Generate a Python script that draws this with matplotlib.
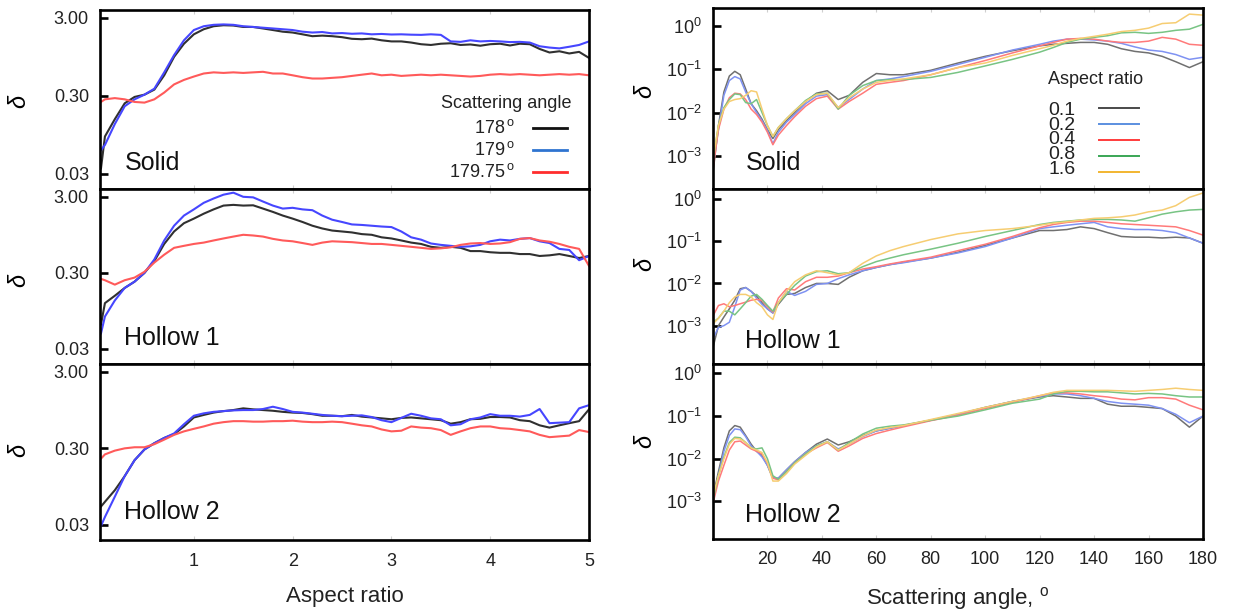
import matplotlib
matplotlib.use('Agg')
import matplotlib.pyplot as plt
from matplotlib.lines import Line2D

plt.rcParams['font.family'] = ['Liberation Sans', 'DejaVu Sans']
plt.rcParams['mathtext.fontset'] = 'custom'
plt.rcParams['mathtext.rm'] = 'Liberation Sans'
plt.rcParams['mathtext.it'] = 'Liberation Sans:italic'

W, H = 1235, 613

# ---------------- left: depolarisation vs aspect ratio ----------------
aspect = [0.06, 0.1, 0.2, 0.3, 0.4, 0.5, 0.6, 0.7, 0.8, 0.9, 1.0, 1.1, 1.2, 1.3, 1.4, 1.5, 1.6,
          1.7, 1.8, 1.9, 2.0, 2.1, 2.2, 2.3, 2.4, 2.5, 2.6, 2.7, 2.8, 2.9, 3.0, 3.1, 3.2, 3.3,
          3.4, 3.5, 3.6, 3.7, 3.8, 3.9, 4.0, 4.1, 4.2, 4.3, 4.4, 4.5, 4.6, 4.7, 4.8, 4.9, 5.0]

solid_178 = [0.035, 0.09, 0.15, 0.24, 0.29, 0.31, 0.36, 0.55, 0.95, 1.4, 1.85, 2.15, 2.35, 2.42,
             2.4, 2.3, 2.3, 2.2, 2.1, 2.0, 1.95, 1.85, 1.75, 1.78, 1.75, 1.7, 1.62, 1.6, 1.63,
             1.55, 1.5, 1.5, 1.45, 1.38, 1.35, 1.4, 1.42, 1.35, 1.37, 1.32, 1.38, 1.4, 1.33,
             1.4, 1.38, 1.2, 1.08, 1.12, 1.05, 1.1, 0.92]
solid_179 = [0.06, 0.07, 0.13, 0.22, 0.27, 0.31, 0.37, 0.6, 1.0, 1.55, 2.1, 2.35, 2.45, 2.48,
             2.45, 2.35, 2.3, 2.25, 2.2, 2.15, 2.1, 2.0, 1.95, 1.98, 1.9, 1.92, 1.88, 1.9, 1.85,
             1.87, 1.84, 1.85, 1.83, 1.82, 1.85, 1.82, 1.5, 1.48, 1.55, 1.5, 1.52, 1.5, 1.47,
             1.48, 1.45, 1.3, 1.25, 1.22, 1.28, 1.35, 1.5]
solid_17975 = [0.25, 0.27, 0.28, 0.27, 0.25, 0.245, 0.27, 0.33, 0.42, 0.48, 0.53, 0.58, 0.6,
               0.59, 0.6, 0.59, 0.6, 0.61, 0.58, 0.58, 0.55, 0.52, 0.5, 0.5, 0.51, 0.52, 0.54,
               0.56, 0.58, 0.55, 0.56, 0.54, 0.55, 0.56, 0.55, 0.56, 0.55, 0.54, 0.53, 0.54,
               0.56, 0.57, 0.56, 0.57, 0.56, 0.55, 0.56, 0.57, 0.56, 0.57, 0.55]

hollow1_178 = [0.063, 0.12, 0.15, 0.19, 0.23, 0.3, 0.43, 0.72, 1.05, 1.35, 1.55, 1.8, 2.05, 2.3,
               2.35, 2.3, 2.32, 2.1, 1.9, 1.7, 1.55, 1.4, 1.25, 1.15, 1.08, 1.05, 1.02, 0.97,
               0.95, 0.88, 0.85, 0.8, 0.75, 0.72, 0.66, 0.64, 0.66, 0.64, 0.58, 0.58, 0.56,
               0.55, 0.55, 0.53, 0.53, 0.5, 0.51, 0.53, 0.5, 0.47, 0.5]
hollow1_179 = [0.048, 0.08, 0.13, 0.19, 0.23, 0.3, 0.45, 0.8, 1.25, 1.7, 2.05, 2.5, 2.85, 3.2,
               3.4, 3.0, 2.95, 2.6, 2.3, 2.1, 2.15, 2.05, 2.0, 1.7, 1.5, 1.4, 1.3, 1.28, 1.25,
               1.22, 1.2, 1.05, 0.88, 0.82, 0.73, 0.7, 0.68, 0.66, 0.67, 0.7, 0.78, 0.82, 0.8,
               0.84, 0.86, 0.78, 0.74, 0.62, 0.6, 0.44, 0.5]
hollow1_17975 = [0.25, 0.24, 0.21, 0.24, 0.26, 0.31, 0.41, 0.52, 0.64, 0.68, 0.72, 0.75, 0.8,
                 0.85, 0.9, 0.95, 0.93, 0.9, 0.84, 0.8, 0.78, 0.74, 0.7, 0.75, 0.78, 0.77, 0.76,
                 0.74, 0.72, 0.72, 0.7, 0.68, 0.66, 0.64, 0.62, 0.63, 0.65, 0.7, 0.73, 0.74,
                 0.72, 0.73, 0.76, 0.84, 0.86, 0.8, 0.77, 0.72, 0.66, 0.62, 0.37]

hollow2_178 = [0.052, 0.06, 0.085, 0.13, 0.21, 0.29, 0.35, 0.41, 0.46, 0.58, 0.76, 0.82, 0.88,
               0.92, 0.95, 1.0, 0.97, 0.95, 0.93, 0.9, 0.88, 0.87, 0.84, 0.8, 0.8, 0.79, 0.82,
               0.78, 0.76, 0.74, 0.72, 0.75, 0.76, 0.74, 0.72, 0.7, 0.63, 0.66, 0.72, 0.73, 0.77,
               0.77, 0.76, 0.7, 0.68, 0.6, 0.56, 0.6, 0.64, 0.68, 0.97]
hollow2_179 = [0.029, 0.038, 0.07, 0.13, 0.21, 0.29, 0.35, 0.41, 0.47, 0.62, 0.8, 0.86, 0.9,
               0.92, 0.94, 0.95, 0.95, 0.98, 1.05, 0.98, 0.9, 0.88, 0.85, 0.82, 0.8, 0.79, 0.8,
               0.81, 0.77, 0.7, 0.66, 0.75, 0.85, 0.8, 0.74, 0.72, 0.6, 0.62, 0.72, 0.76, 0.84,
               0.8, 0.8, 0.78, 0.82, 0.98, 0.64, 0.65, 0.66, 1.0, 1.1]
hollow2_17975 = [0.22, 0.25, 0.28, 0.3, 0.31, 0.31, 0.34, 0.39, 0.45, 0.5, 0.54, 0.58, 0.63,
                 0.66, 0.68, 0.68, 0.67, 0.67, 0.68, 0.68, 0.69, 0.67, 0.66, 0.66, 0.67, 0.66,
                 0.63, 0.6, 0.58, 0.53, 0.5, 0.51, 0.58, 0.56, 0.55, 0.52, 0.45, 0.5, 0.55, 0.58,
                 0.58, 0.55, 0.54, 0.52, 0.5, 0.45, 0.42, 0.43, 0.44, 0.52, 0.49]

angle_labels = ['178', '179', '179.75']
angle_colors = ['#303030', '#4646ff', '#ff5a5a']
angle_key_colors = ['#111111', '#2f74d0', '#ff2d2d']

# ---------------- right: depolarisation vs scattering angle ----------------
theta = [0, 2, 4, 6, 8, 10, 12, 14, 16, 18, 20, 22, 24, 27, 30, 34, 38, 42, 46, 50, 55, 60, 65,
         70, 80, 90, 100, 110, 120, 125, 130, 135, 140, 145, 150, 155, 160, 165, 170, 175, 180]

solid_ar = {
    '0.1': [0.0004, 0.005, 0.03, 0.07, 0.09, 0.075, 0.035, 0.016, 0.011, 0.007, 0.004, 0.0025,
            0.004, 0.0065, 0.01, 0.018, 0.028, 0.032, 0.02, 0.025, 0.05, 0.08, 0.075, 0.075,
            0.095, 0.14, 0.2, 0.27, 0.35, 0.38, 0.4, 0.42, 0.42, 0.38, 0.3, 0.26, 0.24, 0.2,
            0.15, 0.11, 0.15],
    '0.2': [0.0006, 0.004, 0.025, 0.055, 0.068, 0.06, 0.03, 0.016, 0.01, 0.0065, 0.0038, 0.0019,
            0.0035, 0.006, 0.009, 0.016, 0.024, 0.026, 0.013, 0.02, 0.035, 0.055, 0.06, 0.068,
            0.09, 0.13, 0.19, 0.28, 0.38, 0.45, 0.5, 0.5, 0.48, 0.45, 0.4, 0.33, 0.28, 0.26,
            0.22, 0.17, 0.19],
    '0.4': [0.0005, 0.004, 0.012, 0.022, 0.028, 0.027, 0.02, 0.012, 0.009, 0.006, 0.0035, 0.0018,
            0.003, 0.005, 0.008, 0.014, 0.021, 0.024, 0.012, 0.018, 0.028, 0.045, 0.05, 0.055,
            0.075, 0.11, 0.16, 0.24, 0.35, 0.42, 0.5, 0.52, 0.5, 0.45, 0.42, 0.42, 0.45, 0.55,
            0.5, 0.38, 0.36],
    '0.8': [0.0008, 0.005, 0.013, 0.02, 0.027, 0.026, 0.017, 0.016, 0.02, 0.01, 0.005, 0.0028,
            0.0045, 0.0072, 0.011, 0.019, 0.027, 0.028, 0.012, 0.025, 0.042, 0.055, 0.058, 0.058,
            0.065, 0.085, 0.12, 0.17, 0.25, 0.32, 0.42, 0.5, 0.55, 0.6, 0.7, 0.72, 0.68, 0.72,
            0.8, 0.85, 1.1],
    '1.6': [0.0008, 0.005, 0.012, 0.018, 0.02, 0.021, 0.025, 0.032, 0.03, 0.012, 0.005, 0.0028,
            0.0045, 0.0072, 0.011, 0.018, 0.026, 0.028, 0.013, 0.022, 0.035, 0.05, 0.055, 0.06,
            0.075, 0.11, 0.14, 0.21, 0.3, 0.36, 0.45, 0.52, 0.58, 0.65, 0.75, 0.8, 0.9, 1.15,
            1.2, 1.9, 1.8],
}

hollow1_ar = {
    '0.1': [0.0003, 0.001, 0.0016, 0.0025, 0.004, 0.0075, 0.008, 0.0065, 0.005, 0.0035, 0.0025,
            0.002, 0.0032, 0.0055, 0.0058, 0.008, 0.01, 0.01, 0.0095, 0.014, 0.02, 0.024, 0.028,
            0.032, 0.04, 0.055, 0.08, 0.12, 0.18, 0.18, 0.19, 0.22, 0.2, 0.16, 0.13, 0.125,
            0.125, 0.12, 0.125, 0.12, 0.09],
    '0.2': [0.0005, 0.0009, 0.001, 0.0012, 0.0028, 0.007, 0.008, 0.0065, 0.0045, 0.0032, 0.0025,
            0.002, 0.0035, 0.0065, 0.0052, 0.0065, 0.0095, 0.01, 0.013, 0.016, 0.02, 0.024,
            0.028, 0.031, 0.04, 0.053, 0.075, 0.12, 0.2, 0.22, 0.24, 0.26, 0.28, 0.22, 0.2,
            0.19, 0.19, 0.18, 0.16, 0.12, 0.09],
    '0.4': [0.0017, 0.003, 0.0033, 0.0028, 0.003, 0.0033, 0.0036, 0.004, 0.0042, 0.004, 0.0028,
            0.0021, 0.0045, 0.0075, 0.007, 0.011, 0.014, 0.014, 0.015, 0.018, 0.022, 0.025,
            0.029, 0.033, 0.042, 0.06, 0.085, 0.13, 0.21, 0.25, 0.28, 0.3, 0.3, 0.28, 0.26,
            0.25, 0.24, 0.23, 0.22, 0.18, 0.14],
    '0.8': [0.0012, 0.0015, 0.0022, 0.0022, 0.0018, 0.0025, 0.0035, 0.005, 0.0055, 0.0042, 0.003,
            0.0022, 0.0035, 0.0055, 0.009, 0.015, 0.019, 0.02, 0.017, 0.018, 0.025, 0.033, 0.04,
            0.048, 0.065, 0.09, 0.13, 0.18, 0.25, 0.28, 0.3, 0.32, 0.33, 0.33, 0.32, 0.3, 0.36,
            0.44, 0.5, 0.55, 0.57],
    '1.6': [0.0011, 0.0015, 0.0022, 0.0035, 0.0048, 0.0055, 0.0055, 0.0048, 0.0035, 0.0028,
            0.0018, 0.0014, 0.0035, 0.0065, 0.011, 0.016, 0.02, 0.018, 0.016, 0.018, 0.03, 0.045,
            0.06, 0.075, 0.11, 0.15, 0.18, 0.2, 0.24, 0.27, 0.29, 0.32, 0.35, 0.36, 0.38, 0.42,
            0.5, 0.55, 0.7, 1.1, 1.4],
}

hollow2_ar = {
    '0.1': [0.0013, 0.005, 0.018, 0.045, 0.06, 0.055, 0.035, 0.022, 0.015, 0.012, 0.007, 0.0035,
            0.0035, 0.0055, 0.0085, 0.014, 0.022, 0.029, 0.021, 0.025, 0.035, 0.045, 0.052, 0.06,
            0.08, 0.11, 0.16, 0.22, 0.28, 0.3, 0.28, 0.26, 0.26, 0.19, 0.17, 0.17, 0.16, 0.15,
            0.1, 0.055, 0.1],
    '0.2': [0.001, 0.004, 0.015, 0.035, 0.05, 0.048, 0.033, 0.02, 0.015, 0.011, 0.007, 0.0035,
            0.0035, 0.0055, 0.0085, 0.014, 0.02, 0.025, 0.017, 0.022, 0.033, 0.045, 0.052, 0.06,
            0.08, 0.11, 0.155, 0.22, 0.29, 0.33, 0.33, 0.3, 0.26, 0.22, 0.2, 0.19, 0.18, 0.15,
            0.11, 0.07, 0.1],
    '0.4': [0.0009, 0.003, 0.007, 0.016, 0.025, 0.026, 0.021, 0.017, 0.015, 0.013, 0.008, 0.0035,
            0.0032, 0.005, 0.008, 0.013, 0.018, 0.024, 0.015, 0.02, 0.03, 0.039, 0.047, 0.056,
            0.078, 0.105, 0.15, 0.21, 0.3, 0.35, 0.35, 0.33, 0.3, 0.28, 0.25, 0.24, 0.27, 0.27,
            0.25, 0.18, 0.14],
    '0.8': [0.0011, 0.004, 0.011, 0.024, 0.032, 0.031, 0.024, 0.018, 0.017, 0.018, 0.01, 0.004,
            0.0033, 0.005, 0.008, 0.013, 0.02, 0.025, 0.016, 0.024, 0.038, 0.052, 0.058, 0.062,
            0.08, 0.1, 0.14, 0.2, 0.25, 0.33, 0.38, 0.38, 0.37, 0.37, 0.35, 0.33, 0.34, 0.33,
            0.3, 0.28, 0.28],
    '1.6': [0.0013, 0.004, 0.01, 0.022, 0.03, 0.029, 0.024, 0.018, 0.016, 0.014, 0.008, 0.003,
            0.003, 0.0045, 0.0075, 0.012, 0.019, 0.025, 0.016, 0.022, 0.034, 0.047, 0.054, 0.06,
            0.083, 0.115, 0.16, 0.22, 0.3, 0.36, 0.4, 0.4, 0.4, 0.4, 0.39, 0.38, 0.4, 0.42, 0.45,
            0.42, 0.4],
}

ar_colors = ['#707070', '#7f92f2', '#ff7a7a', '#78c484', '#f6cd72']
ar_key_colors = ['#4a4a4a', '#5b8fe0', '#ff3c3c', '#3aa655', '#f2b630']

LEFT_TICKS = [3.0, 0.3, 0.03]
LEFT_TICKLABELS = ['3.00', '0.30', '0.03']
RIGHT_TICKS = [1, 0.1, 0.01, 0.001]
RIGHT_TICKLABELS = ['$10^{0}$', '$10^{-1}$', '$10^{-2}$', '$10^{-3}$']


def px_axes(fig, x0, x1, y0, y1):
    return fig.add_axes([x0 / W, 1 - y1 / H, (x1 - x0) / W, (y1 - y0) / H])


def style(ax, show_x):
    for s in ax.spines.values():
        s.set_linewidth(1.9)
        s.set_color('black')
    ax.tick_params(axis='y', which='both', direction='in', length=6, width=1.9,
                   colors='black', labelcolor='#222222', labelsize=13, pad=8, right=False)
    ax.tick_params(axis='y', which='minor', length=0)
    ax.tick_params(axis='x', direction='in', length=3, width=0.8, color='#cfcfcf',
                   top=True, labelbottom=show_x, labelsize=13, labelcolor='#222222', pad=9)


def main():
    fig = plt.figure(figsize=(W / 100, H / 100), dpi=100)

    left_rows = [(10, 189), (189, 364), (364, 540)]
    right_rows = [(8, 189), (189, 364), (364, 539)]
    right_ylims = [(10 ** -3.77, 10 ** 0.42), (10 ** -3.91, 10 ** 0.24), (10 ** -3.88, 10 ** 0.22)]
    names = ['Solid', 'Hollow 1', 'Hollow 2']
    left_data = [(solid_178, solid_179, solid_17975),
                 (hollow1_178, hollow1_179, hollow1_17975),
                 (hollow2_178, hollow2_179, hollow2_17975)]
    right_data = [solid_ar, hollow1_ar, hollow2_ar]
    left_name_y = [0.145, 0.15, 0.16]
    right_name_y = [0.145, 0.13, 0.137]
    left_delta_y = [0.49, 0.48, 0.51]
    right_delta_y = [0.54, 0.57, 0.56]

    for i in range(3):
        # left column
        ax = px_axes(fig, 100, 589, *left_rows[i])
        for ys, c in zip(left_data[i], angle_colors):
            ax.plot(aspect, ys, color=c, lw=1.5)
        ax.set_yscale('log')
        ax.set_ylim(0.019, 3.8)
        ax.set_xlim(0.05, 5)
        ax.set_yticks(LEFT_TICKS)
        ax.set_yticklabels(LEFT_TICKLABELS)
        ax.set_xticks([1, 2, 3, 4, 5])
        style(ax, i == 2)
        ax.set_ylabel(r'$\it{\delta}$', fontsize=17, rotation=90)
        ax.yaxis.set_label_coords(-0.142, left_delta_y[i])
        ax.text(0.05, left_name_y[i], names[i], transform=ax.transAxes, fontsize=18,
                va='center', ha='left', color='#111111')
        if i == 0:
            ax.text(0.83, (189 - 103) / 179, 'Scattering angle', transform=ax.transAxes,
                    fontsize=13, ha='center', va='center', color='#222222')
            for k, (lab, c) in enumerate(zip(angle_labels, angle_key_colors)):
                yy = (189 - (128 + 22 * k)) / 179
                ax.text((515 - 100) / 489, yy, lab + r'$\,^{\mathrm{o}}$', transform=ax.transAxes,
                        fontsize=13, ha='right', va='center', color='#222222')
                ax.add_line(Line2D([(533 - 100) / 489, (567 - 100) / 489], [yy, yy],
                                   transform=ax.transAxes, color=c, lw=2))
        if i == 2:
            ax.set_xlabel('Aspect ratio', fontsize=16, labelpad=12, color='#222222')

        # right column
        ax = px_axes(fig, 713, 1203, *right_rows[i])
        for (lab, ys), c in zip(right_data[i].items(), ar_colors):
            ax.plot(theta, ys, color=c, lw=1.1)
        ax.set_yscale('log')
        ax.set_ylim(*right_ylims[i])
        ax.set_xlim(0, 180)
        ax.set_yticks(RIGHT_TICKS)
        ax.set_yticklabels(RIGHT_TICKLABELS)
        ax.set_xticks([20, 40, 60, 80, 100, 120, 140, 160, 180])
        style(ax, i == 2)
        ax.set_ylabel(r'$\it{\delta}$', fontsize=17, rotation=90)
        ax.yaxis.set_label_coords(-0.115, right_delta_y[i])
        ax.text(0.066, right_name_y[i], names[i], transform=ax.transAxes, fontsize=18,
                va='center', ha='left', color='#111111')
        if i == 0:
            ax.text((1096 - 713) / 490, (189 - 80) / 181, 'Aspect ratio', transform=ax.transAxes,
                    fontsize=13, ha='center', va='center', color='#222222')
            keys = list(right_data[i].keys())
            # one text block with tight line spacing, as in the original legend
            ax.text((1048 - 713) / 490, (189 - (108 + 172) / 2) / 181, '\n'.join(keys),
                    transform=ax.transAxes, fontsize=14, ha='left', va='center',
                    linespacing=0.83, color='#222222')
            for k, c in enumerate(ar_key_colors):
                yy = (189 - (108 + 16 * k)) / 181
                ax.add_line(Line2D([(1099 - 713) / 490, (1139 - 713) / 490], [yy, yy],
                                   transform=ax.transAxes, color=c, lw=1.4))
        if i == 2:
            ax.set_xlabel(r'Scattering angle, $^{\mathrm{o}}$', fontsize=16, labelpad=12,
                          color='#222222')

    fig.savefig('out.png', dpi=100)


if __name__ == '__main__':
    main()
